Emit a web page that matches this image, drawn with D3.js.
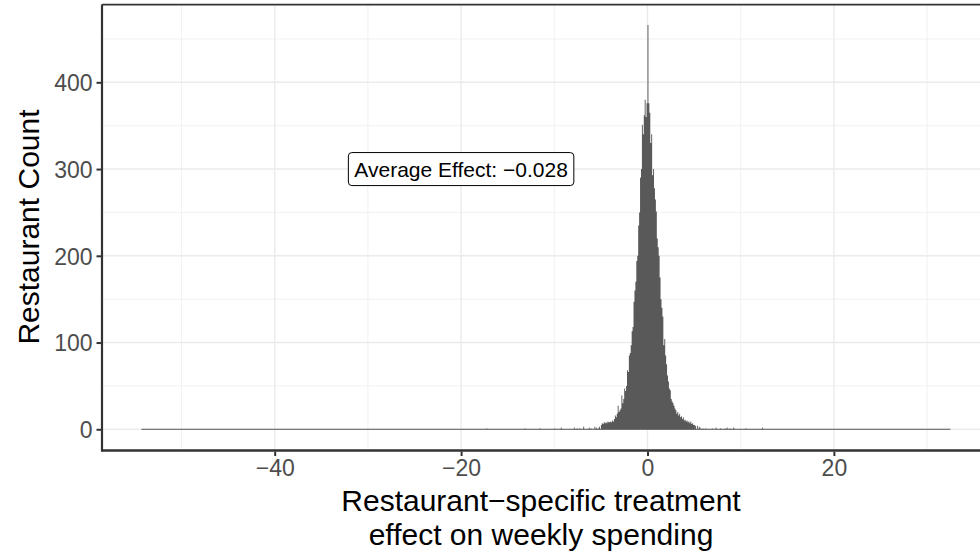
<!DOCTYPE html>
<html>
<head>
<meta charset="utf-8">
<script src="https://cdn.jsdelivr.net/npm/d3@7"></script>
<style>
body { margin: 0; background: #fff; }
svg { display: block; font-family: "Liberation Sans", Arial, Helvetica, sans-serif; }
</style>
</head>
<body>
<svg id="chart" width="980" height="556"></svg>
<script>
// histogram of restaurant-specific effects, bin width 0.1
var binWidth = 0.1;
var coreStart = -5.0;
// counts for bins from -5.0 to 5.0
var coreCounts = [
	5, 7, 6, 8, 7, 8, 7, 9, 8, 8,
	9, 8, 10, 9, 12, 16, 14, 18, 27, 20,
	22, 24, 39, 30, 35, 47, 44, 50, 68, 66,
	85, 88, 97, 113, 118, 147, 160, 170, 194, 200,
	235, 250, 290, 300, 351, 340, 362, 380, 360, 376,
	466, 376, 365, 330, 340, 293, 300, 278, 265, 251,
	220, 210, 200, 175, 150, 140, 130, 97, 104, 85,
	75, 62, 55, 47, 45, 35, 32, 30, 27, 24,
	22, 18, 20, 16, 18, 14, 15, 12, 14, 10,
	11, 9, 10, 8, 9, 7, 9, 6, 7, 5
];
// sparse bins outside the core: bin start, count
var tailBins = [
	[-17.3, 1], [-13.2, 1], [-11.6, 1], [-10.0, 1], [-9.3, 2],
	[-7.9, 2], [-7.6, 1], [-7.3, 1], [-6.9, 3], [-6.3, 2], [-6.1, 1],
	[-5.7, 3], [-5.5, 2], [-5.3, 1], [-5.2, 3],
	[5.0, 5], [5.1, 4], [5.3, 4], [5.5, 3], [5.6, 2],
	[5.9, 1], [6.2, 1], [6.9, 1], [7.3, 2], [7.8, 1],
	[8.3, 1], [8.5, 2], [8.8, 1], [9.2, 2], [10.5, 1], [12.3, 2]
];
var dataMin = -54.3, dataMax = 32.5;
var avgEffect = -0.028;
var labelPos = [-20, 300];

var xMajor = [-40, -20, 0, 20];
var xMinor = [-50, -30, -10, 10, 30];
var yMajor = [0, 100, 200, 300, 400];
var yMinor = [50, 150, 250, 350, 450];

var bins = coreCounts.map(function(c, i){
	return {x0: coreStart + i * binWidth, count: c};
});

var svg = d3.select("#chart");
var panelLeft = 102, panelTop = 4.6, panelBottom = 449.5;

var x = d3.scaleLinear().domain([-58.53, 36.8]).range([panelLeft, panelLeft + 95.33 * 9.32]);
var y = d3.scaleLinear().domain([-23.3, 489.6]).range([panelBottom, panelTop]);

var fmt = function(v){ return String(v).replace("-", "\u2212"); };

// grid
var grid = svg.append("g");
grid.selectAll(".ymin").data(yMinor).enter().append("line")
	.attr("x1", panelLeft).attr("x2", 980)
	.attr("y1", function(d){ return y(d); }).attr("y2", function(d){ return y(d); })
	.attr("stroke", "#ebebeb").attr("stroke-width", 0.7);
grid.selectAll(".xmin").data(xMinor).enter().append("line")
	.attr("y1", panelTop).attr("y2", panelBottom)
	.attr("x1", function(d){ return x(d); }).attr("x2", function(d){ return x(d); })
	.attr("stroke", "#ebebeb").attr("stroke-width", 0.7);
grid.selectAll(".ymaj").data(yMajor).enter().append("line")
	.attr("x1", panelLeft).attr("x2", 980)
	.attr("y1", function(d){ return y(d); }).attr("y2", function(d){ return y(d); })
	.attr("stroke", "#ebebeb").attr("stroke-width", 1.4);
grid.selectAll(".xmaj").data(xMajor).enter().append("line")
	.attr("y1", panelTop).attr("y2", panelBottom)
	.attr("x1", function(d){ return x(d); }).attr("x2", function(d){ return x(d); })
	.attr("stroke", "#ebebeb").attr("stroke-width", 1.4);

// zero-count baseline across the data range
svg.append("line")
	.attr("x1", x(dataMin)).attr("x2", x(dataMax))
	.attr("y1", y(0)).attr("y2", y(0))
	.attr("stroke", "#595959").attr("stroke-width", 1);

// core of the histogram as a step area (avoids seams between thin bars)
var stepData = bins.concat([{x0: coreStart + bins.length * binWidth, count: 0}]);
var area = d3.area()
	.curve(d3.curveStepAfter)
	.x(function(d){ return x(d.x0); })
	.y0(y(0))
	.y1(function(d){ return y(d.count); });
svg.append("path").datum(stepData)
	.attr("d", area)
	.attr("fill", "#595959");

svg.selectAll(".tail").data(tailBins).enter().append("rect")
	.attr("x", function(d){ return x(d[0]); })
	.attr("width", function(d){ return x(d[0] + binWidth) - x(d[0]); })
	.attr("y", function(d){ return y(d[1]); })
	.attr("height", function(d){ return y(0) - y(d[1]); })
	.attr("fill", "#595959");

// panel border (right side runs off the picture)
svg.append("line").attr("x1", panelLeft).attr("x2", 980).attr("y1", panelTop).attr("y2", panelTop)
	.attr("stroke", "#333").attr("stroke-width", 1.6);
svg.append("line").attr("x1", panelLeft).attr("x2", 980).attr("y1", panelBottom + 1).attr("y2", panelBottom + 1)
	.attr("stroke", "#333").attr("stroke-width", 2.4);
svg.append("line").attr("x1", panelLeft).attr("x2", panelLeft).attr("y1", panelTop).attr("y2", panelBottom + 2.2)
	.attr("stroke", "#333").attr("stroke-width", 2.2);

// axes
var xAxis = svg.append("g")
	.attr("transform", "translate(0," + (panelBottom + 2) + ")")
	.call(d3.axisBottom(x).tickValues(xMajor).tickFormat(fmt).tickSize(4.5).tickPadding(4));
var yAxis = svg.append("g")
	.attr("transform", "translate(" + (panelLeft - 1) + ",0)")
	.call(d3.axisLeft(y).tickValues(yMajor).tickFormat(fmt).tickSize(4.5).tickPadding(4));
[xAxis, yAxis].forEach(function(a){
	a.select(".domain").remove();
	a.selectAll(".tick line").attr("stroke", "#333").attr("stroke-width", 2);
	a.selectAll(".tick text").attr("fill", "#4d4d4d").attr("font-size", 23)
		.attr("font-family", "\"Liberation Sans\", Arial, sans-serif");
});
xAxis.selectAll(".tick text").attr("dy", "0.71em");
yAxis.selectAll(".tick text").attr("dy", "0.36em");

// axis titles
var xTitle = svg.append("text")
	.attr("text-anchor", "middle")
	.attr("font-size", 30)
	.attr("fill", "#000");
xTitle.append("tspan").attr("x", 541).attr("y", 511).text("Restaurant\u2212specific treatment");
xTitle.append("tspan").attr("x", 541).attr("y", 545).text("effect on weekly spending");

svg.append("text")
	.attr("transform", "translate(39," + ((panelTop + panelBottom) / 2) + ") rotate(-90)")
	.attr("text-anchor", "middle")
	.attr("font-size", 30)
	.attr("fill", "#000")
	.text("Restaurant Count");

// average effect label
var lab = svg.append("g").attr("transform", "translate(" + x(labelPos[0]) + "," + y(labelPos[1]) + ")");
var labText = lab.append("text")
	.attr("text-anchor", "middle")
	.attr("dy", "0.36em")
	.attr("font-size", 21)
	.attr("fill", "#000")
	.text("Average Effect: " + fmt(avgEffect));
var bb = labText.node().getBBox();
lab.insert("rect", "text")
	.attr("x", bb.x - 6).attr("y", -16.5)
	.attr("width", bb.width + 12).attr("height", 33)
	.attr("rx", 3.5).attr("ry", 3.5)
	.attr("fill", "#fff").attr("stroke", "#000").attr("stroke-width", 1);
</script>
</body>
</html>
